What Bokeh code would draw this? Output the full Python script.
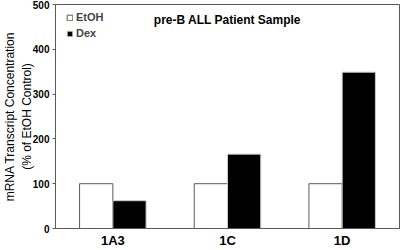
from bokeh.plotting import figure
from bokeh.models import FactorRange, Range1d, FixedTicker, Label, Legend, LegendItem, ColumnDataSource
from bokeh.transform import dodge
from bokeh.embed import file_html
from bokeh.resources import INLINE

samples = ["1A3", "1C", "1D"]
etoh = [100, 100, 100]
dex = [62, 166, 349]
y_ticks = [0, 100, 200, 300, 400, 500]
title_text = "pre-B ALL Patient Sample"
y_label = "mRNA Transcript Concentration\n(% of EtOH Control)"

FONT = "Liberation Sans"
GREY = "#5a5a5a"

src = ColumnDataSource(dict(sample=samples, etoh=etoh, dex=dex))

p = figure(x_range=FactorRange(factors=samples, range_padding=0),
           y_range=Range1d(0, 500),
           width=400, height=250, output_backend="svg", toolbar_location=None,
           min_border_left=0, min_border_right=1, min_border_top=4, min_border_bottom=0)

r1 = p.vbar(x=dodge("sample", -0.145, range=p.x_range), top="etoh", width=0.29, source=src,
            fill_color="white", line_color=GREY, line_width=1)
r2 = p.vbar(x=dodge("sample", 0.145, range=p.x_range), top="dex", width=0.29, source=src,
            fill_color="black", line_color="#cccccc", line_width=1)

p.xgrid.visible = False
p.ygrid.visible = False
p.outline_line_color = GREY
p.background_fill_color = "white"
p.border_fill_color = "white"

p.yaxis.ticker = FixedTicker(ticks=y_ticks)
p.yaxis.minor_tick_line_color = None
p.yaxis.major_tick_out = 3
p.yaxis.major_tick_in = 0
p.yaxis.major_tick_line_color = GREY
p.yaxis.axis_line_color = GREY
p.yaxis.major_label_text_font = FONT
p.yaxis.major_label_text_font_style = "bold"
p.yaxis.major_label_text_font_size = "10px"
p.yaxis.major_label_text_color = "black"
p.yaxis.major_label_standoff = 3
p.yaxis.axis_label = y_label
p.yaxis.axis_label_text_font = FONT
p.yaxis.axis_label_text_font_style = "normal"
p.yaxis.axis_label_text_font_size = "12px"
p.yaxis.axis_label_text_color = "black"
p.yaxis.axis_label_standoff = -4

p.xaxis.axis_label = None
p.xaxis.major_tick_line_color = None
p.xaxis.minor_tick_line_color = None
p.xaxis.axis_line_color = GREY
p.xaxis.major_label_text_font = FONT
p.xaxis.major_label_text_font_style = "bold"
p.xaxis.major_label_text_font_size = "13px"
p.xaxis.major_label_text_color = "black"
p.xaxis.major_label_standoff = -2

p.add_layout(Label(x=1.5, y=466, text=title_text, text_align="center", text_baseline="middle",
                   text_font=FONT, text_font_style="bold", text_font_size="12px", text_color="black"))

legend = Legend(items=[LegendItem(label="EtOH", renderers=[r1]), LegendItem(label="Dex", renderers=[r2])],
                location=(11, 189), orientation="vertical",
                glyph_width=7, glyph_height=7, label_height=11, spacing=4, padding=0, margin=0,
                label_standoff=3, border_line_color=None, background_fill_alpha=0,
                label_text_font=FONT, label_text_font_style="bold", label_text_font_size="11px")
p.add_layout(legend)

open("out.html", "w").write(file_html(p, INLINE))
